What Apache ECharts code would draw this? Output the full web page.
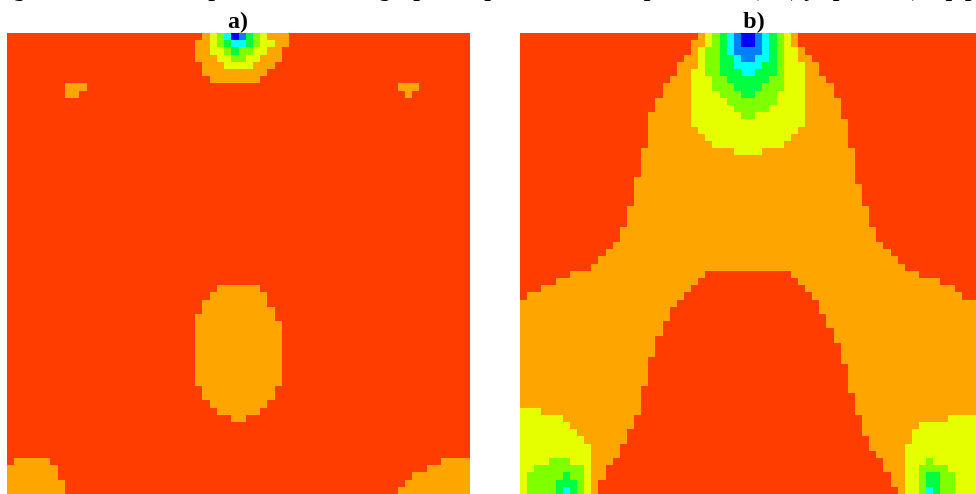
<!DOCTYPE html>
<html><head><meta charset="utf-8">
<script src="https://cdn.jsdelivr.net/npm/echarts@6/dist/echarts.min.js"></script>
<style>html,body{margin:0;padding:0;background:#fff}#c{width:976px;height:494px}</style>
</head><body><div id="c"></div>
<script>
// contour levels (0 = highest pressure, 7 = lowest)
const levels = [0, 1, 2, 3, 4, 5, 6, 7];
const levelColors = ['#FF3D00', '#FFA500', '#E5FF00', '#7FFF00', '#00FF40', '#00FFFF', '#0080FF', '#0000FF'];
const nCols = 64;
const nRows = 64;
const panelLabels = ['a)', 'b)'];
const caption = 'Figure 6. Contour of pressure field in graphic representation of pressure: a), b) yz plane, c) top plane';

// level regions, per grid row: "level:col0-col1 ..."
const panelA = [
 "1:27-38 2:28-35 3:29-34 4:30-33 5:30-32 6:31-32 7:31",
 "1:26-38 2:28-36 3:29-34 4:30-33 5:31-32",
 "1:26-37 2:28-35 3:30-33 4:31",
 "1:26-37 2:29-34 3:31-32",
 "1:27-36 2:30-33",
 "1:27-35",
 "1:28-34",
 "1:8-10 1:54-56",
 "1:8-9 1:55",
 "","","","","","","","","","",
 "","","","","","","","","","",
 "","","","","","",
 "1:29-34",
 "1:28-35",
 "1:27-35",
 "1:27-36",
 "1:26-36",
 "1:26-37","1:26-37","1:26-37","1:26-37","1:26-37","1:26-37","1:26-37","1:26-37","1:26-37",
 "1:27-36",
 "1:27-36",
 "1:28-35",
 "1:29-34",
 "1:31-32",
 "","","","","",
 "1:1-5 1:60-63",
 "1:0-6 1:58-63",
 "1:0-6 1:56-63",
 "1:0-7 1:55-63",
 "1:0-7 1:54-63"
];
const panelB = [
 "0:0-24 0:39-63 2:26-37 3:27-36 4:28-35 5:29-34 6:30-33 7:31-32",
 "0:0-23 0:39-63 2:26-37 3:27-36 4:28-35 5:29-34 6:30-33 7:31-32",
 "0:0-23 0:40-63 2:25-38 3:26-36 4:28-35 5:29-34 6:30-33",
 "0:0-22 0:41-63 2:25-38 3:26-36 4:28-35 5:30-34 6:31-32",
 "0:0-21 0:42-63 2:25-39 3:26-36 4:28-35 5:30-33",
 "0:0-21 0:42-63 2:24-39 3:26-36 4:28-35 5:31-32",
 "0:0-20 0:43-63 2:24-39 3:27-36 4:29-34",
 "0:0-19 0:44-63 2:24-39 3:27-36 4:30-33",
 "0:0-19 0:44-63 2:24-39 3:28-35 4:31-32",
 "0:0-18 0:45-63 2:24-39 3:29-35",
 "0:0-18 0:45-63 2:24-39 3:30-34",
 "0:0-17 0:45-63 2:24-39 3:31-32",
 "0:0-17 0:46-63 2:24-39",
 "0:0-17 0:46-63 2:25-38",
 "0:0-17 0:46-63 2:26-37",
 "0:0-17 0:46-63 2:27-36",
 "0:0-16 0:47-63 2:30-33",
 "0:0-16 0:47-63",
 "0:0-16 0:47-63",
 "0:0-16 0:47-63",
 "0:0-15 0:47-63",
 "0:0-15 0:48-63",
 "0:0-15 0:48-63",
 "0:0-15 0:48-63",
 "0:0-14 0:49-63",
 "0:0-14 0:49-63",
 "0:0-14 0:49-63",
 "0:0-13 0:50-63",
 "0:0-13 0:50-63",
 "0:0-12 0:51-63",
 "0:0-11 0:52-63",
 "0:0-10 0:53-63",
 "0:0-9 0:54-63",
 "0:0-6 0:56-63 0:26-37",
 "0:0-4 0:59-63 0:25-38",
 "0:0-2 0:61-63 0:24-39",
 "0:0 0:62-63 0:23-40",
 "0:22-41",
 "0:21-41",
 "0:21-42",
 "0:20-42",
 "0:20-43",
 "0:19-43",
 "0:19-44",
 "0:19-44",
 "0:18-44",
 "0:18-45",
 "0:18-45",
 "0:18-45",
 "0:17-45",
 "0:17-46",
 "0:17-46",
 "0:17-46 2:0-2",
 "0:16-47 2:0-5 2:60-63",
 "0:16-47 2:0-6 2:56-63",
 "0:15-47 2:0-7 2:55-63",
 "0:15-48 2:0-8 2:55-63",
 "0:14-48 2:0-9 2:54-63",
 "0:14-49 2:0-9 2:54-63",
 "0:13-50 2:0-9 2:54-63 3:4-6 3:57",
 "0:12-50 2:0-9 2:54-63 3:2-8 3:56-59",
 "0:12-51 2:0-9 2:54-63 3:1-8 3:56-60 4:6 4:57-58",
 "0:11-51 2:0-9 2:54-63 3:1-8 3:56-60 4:5-7 4:57-58",
 "0:11-52 2:0-9 2:54-63 3:1-8 3:56-60 4:5-7 4:57-58 5:6 5:57"
];

function buildGrid(spec, base) {
  const out = [];
  for (let r = 0; r < nRows; r++) {
    const row = new Array(nCols).fill(base);
    const s = (spec[r] || '').trim();
    if (s) {
      s.split(/\s+/).forEach(tok => {
        const [lv, rng] = tok.split(':');
        const parts = rng.split('-').map(Number);
        const a = parts[0], b = parts.length > 1 ? parts[1] : parts[0];
        for (let c = a; c <= b; c++) row[c] = Number(lv);
      });
    }
    for (let c = 0; c < nCols; c++) out.push([c, r, row[c]]);
  }
  return out;
}

// cells drawn through the axes' scales, snapped to whole pixels so no seams show
function renderCell(params, api) {
  const c = api.value(0), r = api.value(1), lv = api.value(2);
  const p = api.coord([c, r]);
  const s = api.size([1, 1]);
  const x0 = Math.round(p[0] - s[0] / 2), x1 = Math.round(p[0] + s[0] / 2);
  const y0 = Math.round(p[1] - s[1] / 2), y1 = Math.round(p[1] + s[1] / 2);
  return {type: 'rect', shape: {x: x0, y: y0, width: x1 - x0, height: y1 - y0},
          style: {fill: levelColors[lv]}, silent: true};
}

const colCats = Array.from({length: nCols}, (_, i) => i);
const rowCats = Array.from({length: nRows}, (_, i) => i);
const chart = echarts.init(document.getElementById('c'), null, {renderer: 'canvas'});
const hidden = {show: false};
const grids = [
  {left: 7, top: 33, width: 463, height: 463},
  {left: 520, top: 33, width: 463, height: 463}
];
const labelFont = 'bold 24px "Liberation Serif"';
chart.setOption({
  animation: false,
  backgroundColor: '#ffffff',
  grid: grids,
  xAxis: grids.map((g, i) => ({type: 'category', gridIndex: i, data: colCats, axisLine: hidden, axisTick: hidden, axisLabel: hidden, splitLine: hidden})),
  yAxis: grids.map((g, i) => ({type: 'category', gridIndex: i, inverse: true, data: rowCats, axisLine: hidden, axisTick: hidden, axisLabel: hidden, splitLine: hidden})),
  series: [
    {type: 'custom', xAxisIndex: 0, yAxisIndex: 0, data: buildGrid(panelA, 0), renderItem: renderCell, encode: {x: 0, y: 1}},
    {type: 'custom', xAxisIndex: 1, yAxisIndex: 1, data: buildGrid(panelB, 1), renderItem: renderCell, encode: {x: 0, y: 1}}
  ],
  graphic: [
    {type: 'text', x: -8, y: -22, style: {text: caption, font: labelFont, fill: '#000', textAlign: 'left', textVerticalAlign: 'top'}},
    {type: 'text', x: 238, y: 34, style: {text: panelLabels[0], font: labelFont, fill: '#000', textAlign: 'center', textVerticalAlign: 'bottom'}},
    {type: 'text', x: 754, y: 34, style: {text: panelLabels[1], font: labelFont, fill: '#000', textAlign: 'center', textVerticalAlign: 'bottom'}},
    {type: 'line', shape: {x1: 7.5, y1: 470, x2: 7.5, y2: 494}, style: {stroke: '#555', lineWidth: 1}},
    {type: 'line', shape: {x1: 520.5, y1: 470, x2: 520.5, y2: 494}, style: {stroke: '#555', lineWidth: 1}}
  ]
});
</script>
</body></html>
